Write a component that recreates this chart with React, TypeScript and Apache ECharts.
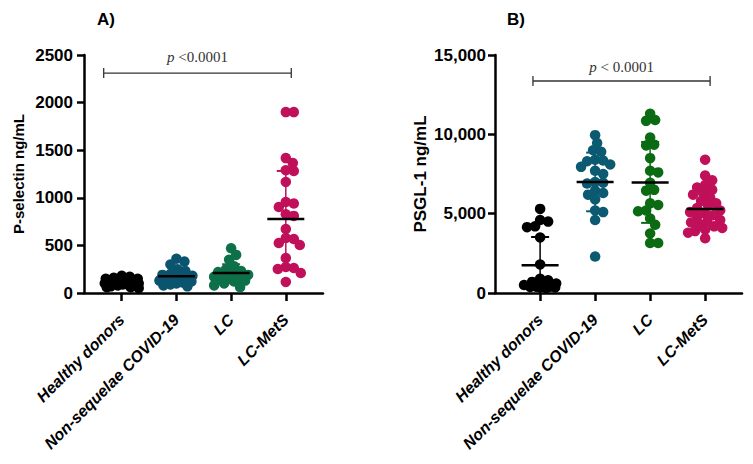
import React, { useEffect, useRef } from "react";
import * as echarts from "echarts";

const categories = ["Healthy donors", "Non-sequelae COVID-19", "LC", "LC-MetS"];

// Panel A: P-selectin ng/mL
const healthyA = [180, 170, 160, 150, 150, 140, 130, 120, 120, 110, 100, 100, 90, 90, 80, 80, 70, 60, 60, 50];
const nonSeqA = [360, 330, 300, 250, 230, 200, 190, 180, 170, 160, 150, 140, 130, 120, 110, 100, 90, 80, 70];
const lcA = [470, 400, 350, 280, 250, 230, 220, 200, 190, 180, 170, 160, 150, 140, 130, 120, 100, 80, 60];
const lcMetsA = [1900, 1900, 1417, 1365, 1290, 1281, 1166, 956, 940, 903, 828, 810, 672, 577, 567, 525, 504, 367, 273, 262, 252, 210, 116];
const meanA = [105, 175, 210, 777];
const sdA = [40, 87, 92, 505];

// Panel B: PSGL-1 ng/mL
const healthyB = [5300, 4600, 4500, 4200, 4150, 3500, 1800, 900, 800, 700, 600, 500, 450, 400, 400, 380, 350, 350, 300];
const nonSeqB = [9950, 9450, 9000, 8900, 8400, 8350, 8300, 8100, 7950, 7700, 7500, 7000, 6950, 6900, 6450, 6300, 6200, 5900, 5200, 5100, 4600, 2300];
const lcB = [11300, 10900, 10850, 9800, 9350, 9300, 8500, 7700, 7600, 6950, 6500, 6450, 5650, 5550, 5200, 5150, 4700, 4300, 3750, 3150, 3150];
const lcMetsB = [8400, 7400, 7100, 6800, 6650, 6500, 6300, 6200, 6000, 5800, 5650, 5500, 5350, 5200, 5100, 5000, 4900, 4800, 4600, 4500, 4450, 4350, 4200, 4100, 4000, 3900, 3800, 3450];
const meanB = [1750, 7000, 6970, 5290];
const sdB = [1780, 1850, 2550, 1260];

const yTicksA = [0, 500, 1000, 1500, 2000, 2500];
const yTicksB = [0, 5000, 10000, 15000];

const pTextA = "<0.0001";
const pTextB = "< 0.0001";

const colorsA = ["#000000", "#0b5470", "#0e7048", "#c0105a"];
const colorsB = ["#000000", "#0b5a72", "#0b6b12", "#c0105a"];

const SANS = "'Liberation Sans', Arial, sans-serif";
const SERIF = "'Liberation Serif', 'DejaVu Serif', serif";

// simple beeswarm: offsets (in x units) so dots overlap less
function swarm(values: number[], pxY: number, pxX: number, minDist: number, maxOff: number): number[] {
  const order = values.map((v, i) => i).sort((a, b) => values[b] - values[a]);
  const placed: { x: number; y: number }[] = [];
  const offs = new Array(values.length).fill(0);
  for (const i of order) {
    const y = values[i] * pxY;
    let best = 0;
    let bestD = -1;
    const cands: number[] = [0];
    for (let k = 1; k <= maxOff; k++) cands.push(k, -k);
    for (const c of cands) {
      let md = Infinity;
      for (const p of placed) {
        const d = Math.hypot(p.x - c, p.y - y);
        if (d < md) md = d;
      }
      if (md >= minDist) {
        best = c;
        break;
      }
      if (md > bestD) {
        bestD = md;
        best = c;
      }
    }
    placed.push({ x: best, y });
    offs[i] = best / pxX;
  }
  return offs;
}

function scatterSeries(groups: number[][], colors: string[], axis: number, pxY: number, pxX: number) {
  return groups.map((vals, gi) => {
    const offs = swarm(vals, pxY, pxX, 8, 17);
    return {
      type: "scatter",
      xAxisIndex: axis,
      yAxisIndex: axis,
      symbol: "circle",
      symbolSize: 10.5,
      itemStyle: { color: colors[gi], opacity: 1 },
      z: 2,
      data: vals.map((v, i) => [gi + offs[i], v]),
    };
  });
}

function errSeries(means: number[], sds: number[], colors: string[], axis: number) {
  return {
    type: "custom",
    xAxisIndex: axis,
    yAxisIndex: axis,
    z: 5,
    data: means.map((m, i) => [i, m, sds[i]]),
    renderItem: (params: any, api: any) => {
      const x = api.value(0);
      const m = api.value(1);
      const sd = api.value(2);
      const c = api.coord([x, m]);
      const t = api.coord([x, m + sd]);
      const lo = Math.max(0, m - sd);
      const b = api.coord([x, lo]);
      const col = colors[params.dataIndex];
      const children: any[] = [
        { type: "line", shape: { x1: c[0], y1: t[1], x2: c[0], y2: b[1] }, style: { stroke: col, lineWidth: 1.5 } },
        { type: "line", shape: { x1: c[0] - 9, y1: t[1], x2: c[0] + 9, y2: t[1] }, style: { stroke: col, lineWidth: 2 } },
      ];
      if (m - sd > 0) {
        children.push({ type: "line", shape: { x1: c[0] - 9, y1: b[1], x2: c[0] + 9, y2: b[1] }, style: { stroke: col, lineWidth: 2 } });
      }
      children.push({ type: "line", shape: { x1: c[0] - 18.5, y1: c[1], x2: c[0] + 18.5, y2: c[1] }, style: { stroke: "#000", lineWidth: 2.5 } });
      return { type: "group", children };
    },
  };
}

function bracketSeries(x1: number, x2: number, y: number, txt: string, axis: number, textUp: number) {
  return {
    type: "custom",
    xAxisIndex: axis,
    yAxisIndex: axis,
    z: 6,
    data: [[x1, x2, y]],
    renderItem: (params: any, api: any) => {
      const a = api.coord([api.value(0), api.value(2)]);
      const b = api.coord([api.value(1), api.value(2)]);
      const cx = (a[0] + b[0]) / 2;
      return {
        type: "group",
        children: [
          { type: "line", shape: { x1: a[0], y1: a[1], x2: b[0], y2: b[1] }, style: { stroke: "#333", lineWidth: 1.3 } },
          { type: "line", shape: { x1: a[0], y1: a[1] - 5, x2: a[0], y2: a[1] + 5 }, style: { stroke: "#333", lineWidth: 1.3 } },
          { type: "line", shape: { x1: b[0], y1: b[1] - 5, x2: b[0], y2: b[1] + 5 }, style: { stroke: "#333", lineWidth: 1.3 } },
          {
            type: "text",
            x: cx,
            y: a[1] - textUp,
            style: {
              text: "{i|p} " + txt,
              fontFamily: SERIF,
              fontSize: 15,
              fill: "#333",
              align: "center",
              verticalAlign: "middle",
              rich: { i: { fontStyle: "italic", fontFamily: SERIF, fontSize: 15, fill: "#333" } },
            },
          },
        ],
      };
    },
  };
}

function xAxis(gridIndex: number, min: number, max: number) {
  return {
    type: "value",
    gridIndex,
    min,
    max,
    axisLine: { show: true, onZero: false, lineStyle: { color: "#000", width: 2.5 } },
    axisTick: { show: true, length: 8, lineStyle: { color: "#000", width: 2.5 }, customValues: [0, 1, 2, 3] },
    splitLine: { show: false },
    axisLabel: {
      customValues: [0, 1, 2, 3],
      formatter: (v: number) => categories[Math.round(v)] ?? "",
      rotate: 45,
      margin: 24,
      fontFamily: SANS,
      fontSize: 16,
      fontWeight: "bold",
      fontStyle: "italic",
      color: "#000",
    },
  };
}

function yAxis(gridIndex: number, ticks: number[], name: string, nameGap: number, nameSize: number, comma: boolean, margin: number) {
  return {
    type: "value",
    gridIndex,
    min: ticks[0],
    max: ticks[ticks.length - 1],
    interval: ticks[1] - ticks[0],
    name,
    nameLocation: "middle",
    nameGap,
    nameTextStyle: { fontFamily: SANS, fontSize: nameSize, fontWeight: "bold", color: "#000" },
    axisLine: { show: true, onZero: false, lineStyle: { color: "#000", width: 2.5 } },
    axisTick: { show: true, length: 7, lineStyle: { color: "#000", width: 2.5 } },
    splitLine: { show: false },
    axisLabel: {
      margin,
      fontFamily: SANS,
      fontSize: 17,
      fontWeight: "bold",
      color: "#000",
      formatter: (v: number) => (comma ? v.toLocaleString("en-US") : String(v)),
    },
  };
}

export default function App() {
  const ref = useRef<HTMLDivElement>(null);
  useEffect(() => {
    if (!ref.current) return;
    const chart = echarts.init(ref.current, null, { renderer: "svg" });
    const pxYA = 238 / 2500;
    const pxYB = 238 / 15000;
    const pxX = 54.8;
    const option: any = {
      animation: false,
      backgroundColor: "#fff",
      title: [
        { text: "A)", left: 92, top: 6, textStyle: { fontFamily: SANS, fontSize: 17, fontWeight: "bold", color: "#000" } },
        { text: "B)", left: 502, top: 6, textStyle: { fontFamily: SANS, fontSize: 17, fontWeight: "bold", color: "#000" } },
      ],
      grid: [
        { left: 84, top: 55, width: 239, height: 238 },
        { left: 495, top: 55, width: 247, height: 238 },
      ],
      xAxis: [xAxis(0, -0.69, 3.68), xAxis(1, -0.82, 3.67)],
      yAxis: [
        yAxis(0, yTicksA, "P-selectin ng/mL", 58, 15, false, 11),
        yAxis(1, yTicksB, "PSGL-1 ng/mL", 66, 17, true, 9),
      ],
      series: [
        ...scatterSeries([healthyA, nonSeqA, lcA, lcMetsA], colorsA, 0, pxYA, pxX),
        ...scatterSeries([healthyB, nonSeqB, lcB, lcMetsB], colorsB, 1, pxYB, pxX),
        errSeries(meanA, sdA, colorsA, 0),
        errSeries(meanB, sdB, colorsB, 1),
        bracketSeries(-0.33, 3.1, 2310, pTextA, 0, 16),
        bracketSeries(-0.13, 3.09, 13360, pTextB, 1, 14),
      ],
    };
    chart.setOption(option);
    return () => chart.dispose();
  }, []);
  return <div ref={ref} style={{ position: "fixed", left: 0, top: 0, width: 753, height: 464, background: "#fff" }} />;
}
